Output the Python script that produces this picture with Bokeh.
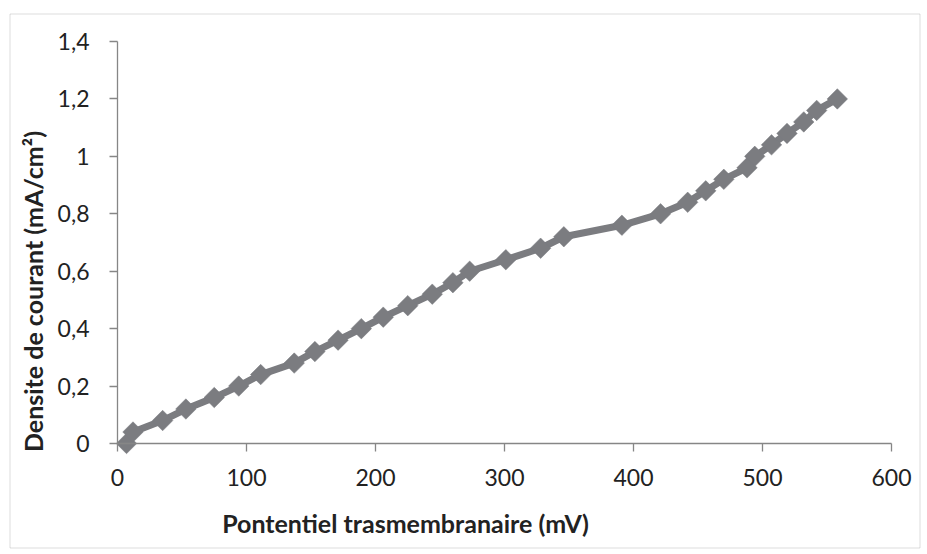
from bokeh.plotting import figure
from bokeh.models import Range1d, FixedTicker, BoxAnnotation, Label
from bokeh.embed import file_html
from bokeh.resources import INLINE
import math

# Data
potential_mV = [7, 12, 35, 53, 75, 94, 111, 137, 153, 171, 189, 206, 225, 244, 260,
                273, 301, 328, 346, 391, 421, 442, 456, 470, 488, 494, 507, 519, 532, 542, 558]
current_density = [0.00, 0.04, 0.08, 0.12, 0.16, 0.20, 0.24, 0.28, 0.32, 0.36, 0.40, 0.44,
                   0.48, 0.52, 0.56, 0.60, 0.64, 0.68, 0.72, 0.76, 0.80, 0.84, 0.88, 0.92,
                   0.96, 1.00, 1.04, 1.08, 1.12, 1.16, 1.20]

x_ticks = [0, 100, 200, 300, 400, 500, 600]
y_ticks = [0, 0.2, 0.4, 0.6, 0.8, 1.0, 1.2, 1.4]
y_tick_labels = ["0", "0,2", "0,4", "0,6", "0,8", "1", "1,2", "1,4"]

x_title = "Pontentiel trasmembranaire (mV)"
y_title = "Densite de courant (mA/cm²)"

AXIS_COLOR = "#868686"
SERIES_COLOR = "#7b7c80"
TEXT_COLOR = "#222222"
BORDER_COLOR = "#8f8f8f"
FONT = "Lato"

# layout (canvas pixels): the frame fills the canvas, the axes sit at x=0 / y=0
W, H = 921, 549
AL, AR, AT, AB = 117, 891, 41, 443          # where the axis box (0..600, 0..1.4) is drawn
XMIN, XMAX, YMIN, YMAX = 0, 600, 0, 1.4
sx = (AR - AL) / (XMAX - XMIN)
sy = (AB - AT) / (YMAX - YMIN)


def to_dx(px):
    return XMIN + (px - AL) / sx


def to_dy(py):
    return YMIN + (AB - py) / sy


p = figure(width=W, height=H, output_backend="svg", toolbar_location=None,
           x_range=Range1d(to_dx(0), to_dx(W)), y_range=Range1d(to_dy(H), to_dy(0)),
           min_border_left=0, min_border_right=0, min_border_top=0, min_border_bottom=0)

p.outline_line_color = None
p.xgrid.grid_line_color = None
p.ygrid.grid_line_color = None
p.background_fill_color = "white"
p.border_fill_color = "white"

# chart-area border
p.add_layout(BoxAnnotation(left=to_dx(9.5), right=to_dx(919.5), top=to_dy(13.5), bottom=to_dy(547.5),
                           fill_alpha=0, fill_color=None,
                           line_color=BORDER_COLOR, line_width=1))

p.line(potential_mV, current_density, line_color=SERIES_COLOR, line_width=7, line_join="round")
p.scatter(potential_mV, current_density, marker="square", size=14.5, angle=math.pi / 4,
          fill_color=SERIES_COLOR, line_color=SERIES_COLOR, line_width=0.5)

for ax in (p.xaxis[0], p.yaxis[0]):
    ax.fixed_location = 0
    ax.axis_line_color = AXIS_COLOR
    ax.axis_line_width = 1.3
    ax.major_tick_line_color = AXIS_COLOR
    ax.major_tick_line_width = 1.3
    ax.major_tick_in = 0
    ax.major_tick_out = 8
    ax.minor_tick_line_color = None
    ax.major_label_text_font = FONT
    ax.major_label_text_font_size = "23px"
    ax.major_label_text_color = TEXT_COLOR

p.xaxis.bounds = (XMIN, XMAX)
p.yaxis.bounds = (YMIN, YMAX)
p.xaxis.ticker = FixedTicker(ticks=x_ticks)
p.yaxis.ticker = FixedTicker(ticks=y_ticks)
p.yaxis.major_label_overrides = {t: lab for t, lab in zip(y_ticks, y_tick_labels)}
p.xaxis.major_label_standoff = 17
p.yaxis.major_label_standoff = 20

# axis titles (positioned like the original, off-centre)
p.add_layout(Label(x=to_dx(405), y=to_dy(522), text=x_title, text_align="center",
                   text_baseline="alphabetic", text_font=FONT, text_font_size="25px",
                   text_font_style="bold", text_color=TEXT_COLOR))
p.add_layout(Label(x=to_dx(32), y=to_dy(291), text=y_title, angle=math.pi / 2,
                   text_align="center", text_baseline="alphabetic", text_font=FONT,
                   text_font_size="25px", text_font_style="bold", text_color=TEXT_COLOR))

open("out.html", "w").write(file_html(p, INLINE))
